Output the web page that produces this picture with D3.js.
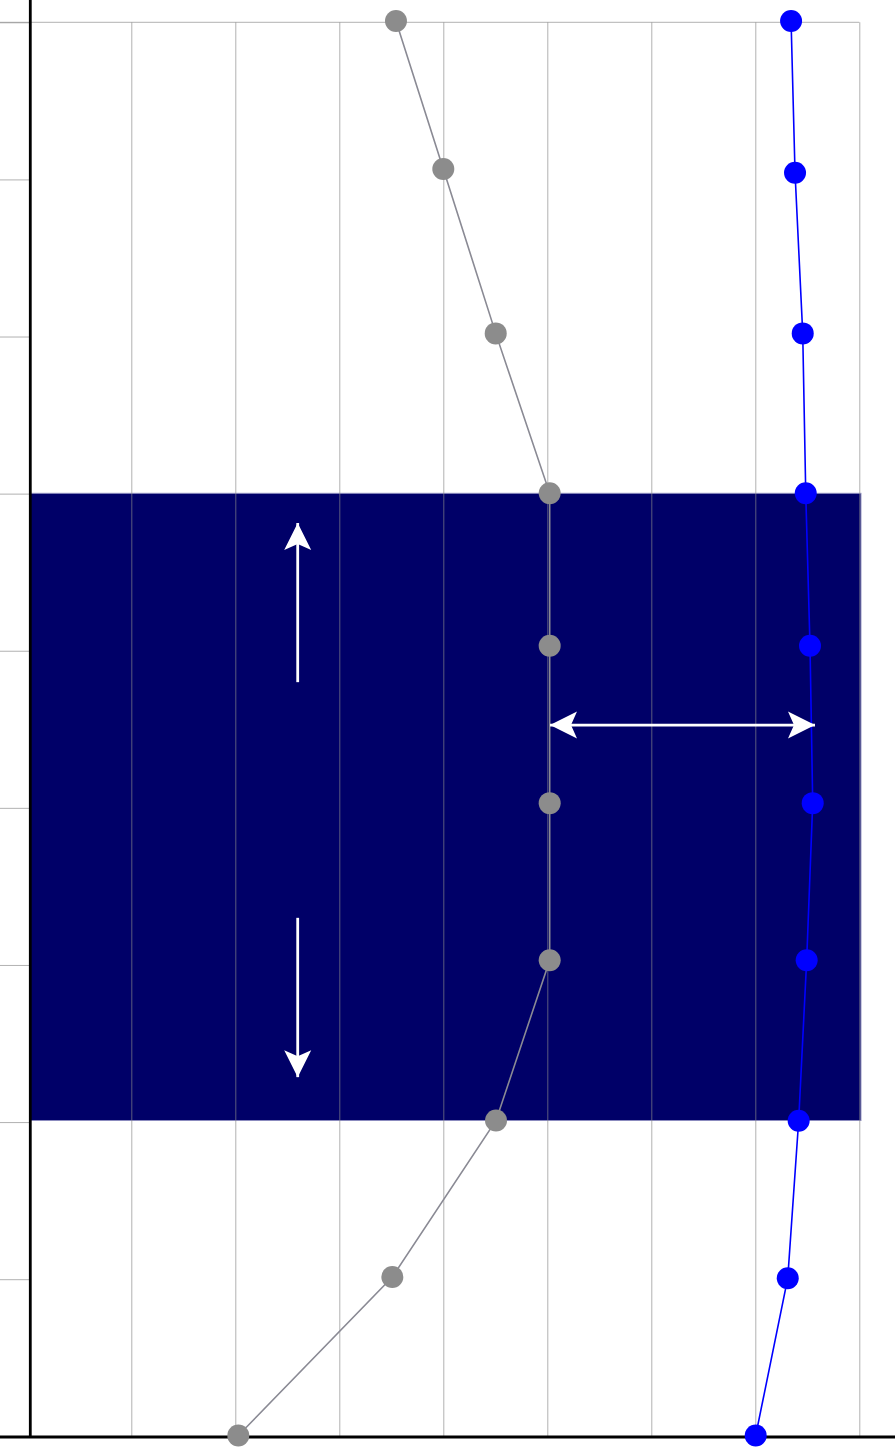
<!DOCTYPE html>
<html>
<head>
<meta charset="utf-8">
<script src="https://cdn.jsdelivr.net/npm/d3@7"></script>
<style>
  html, body { margin: 0; padding: 0; background: #ffffff; }
  svg { display: block; }
</style>
</head>
<body>
<script>
// ---- data ----
const xTicks = [1, 2, 3, 4, 5, 6, 7, 8];
const yTicks = [0, 1, 2, 3, 4, 5, 6, 7, 8, 9];

const grayX = [3.545, 4.0, 4.504, 5.023, 5.023, 5.023, 5.023, 4.507, 3.51, 2.029];
const grayY = [-0.008, 0.934, 1.98, 2.998, 3.968, 4.97, 5.97, 6.99, 7.986, 8.995];

const blueX = [7.344, 7.382, 7.456, 7.485, 7.526, 7.552, 7.494, 7.417, 7.312, 7.004];
const blueY = [-0.008, 0.957, 1.98, 2.998, 3.968, 4.97, 5.97, 6.992, 7.994, 8.995];

const bandX = [0.03, 8.016];
const bandY = [2.998, 6.99];

// arrows: [x1, y1, x2, y2, doubleHeaded]
const arrows = [
  [2.6, 4.2, 2.6, 3.187, false],
  [2.6, 5.7, 2.6, 6.714, false],
  [5.026, 4.473, 7.574, 4.473, true]
];

// ---- layout ----
const W = 896, H = 1447;
const x = d3.scaleLinear().domain([0, 8]).range([27.3, 859.3]);
const y = d3.scaleLinear().domain([0, 9]).range([22.3, 1436.3]);
const axisX = 30.3, axisY = 1437;

const svg = d3.select("body").append("svg")
  .attr("width", W).attr("height", H);

// band
svg.append("rect")
  .attr("x", x(bandX[0])).attr("y", y(bandY[0]))
  .attr("width", x(bandX[1]) - x(bandX[0]))
  .attr("height", y(bandY[1]) - y(bandY[0]))
  .attr("fill", "#000068")
  .attr("stroke", "#8c8cbe").attr("stroke-width", 1);

// vertical grid lines
const gx = svg.append("g")
  .attr("transform", `translate(0,${axisY})`)
  .call(d3.axisBottom(x).tickValues(xTicks).tickSize(-(axisY - y(0))).tickFormat(""));
gx.select(".domain").remove();
gx.selectAll(".tick line").attr("stroke", "#888").attr("stroke-opacity", 0.66).attr("stroke-width", 1);

// left ticks
const gy = svg.append("g")
  .attr("transform", `translate(${axisX},0)`)
  .call(d3.axisLeft(y).tickValues(yTicks).tickSize(axisX).tickFormat(""));
gy.select(".domain").remove();
gy.selectAll(".tick line").attr("stroke", "#888").attr("stroke-opacity", 0.66).attr("stroke-width", 1);

// top border
svg.append("line")
  .attr("x1", 0).attr("x2", x(8))
  .attr("y1", y(0)).attr("y2", y(0))
  .attr("stroke", "#888").attr("stroke-opacity", 0.66).attr("stroke-width", 1);

// axes
svg.append("line")
  .attr("x1", axisX).attr("x2", axisX).attr("y1", 0).attr("y2", axisY)
  .attr("stroke", "#000").attr("stroke-width", 2.8);
svg.append("line")
  .attr("x1", 0).attr("x2", 895).attr("y1", axisY).attr("y2", axisY)
  .attr("stroke", "#000").attr("stroke-width", 3);

// series
const line = d3.line().x(d => x(d[0])).y(d => y(d[1]));
const grayPts = grayX.map((v, i) => [v, grayY[i]]);
const bluePts = blueX.map((v, i) => [v, blueY[i]]);

svg.append("path").datum(grayPts).attr("d", line)
  .attr("fill", "none").attr("stroke", "#8a8a94").attr("stroke-width", 1.6);
svg.append("path").datum(bluePts).attr("d", line)
  .attr("fill", "none").attr("stroke", "#0000ff").attr("stroke-width", 1.6);

svg.append("g").selectAll("circle").data(grayPts).join("circle")
  .attr("cx", d => x(d[0])).attr("cy", d => y(d[1])).attr("r", 11)
  .attr("fill", "#8c8c8c");
svg.append("g").selectAll("circle").data(bluePts).join("circle")
  .attr("cx", d => x(d[0])).attr("cy", d => y(d[1])).attr("r", 11)
  .attr("fill", "#0000ff");

// arrows
const L = 27, HW = 13.5, N = 6;
function head(g, tx, ty, ang) {
  g.append("path")
    .attr("d", `M0,0 L${-L},${-HW} L${-L + N},0 L${-L},${HW} Z`)
    .attr("transform", `translate(${tx},${ty}) rotate(${ang})`)
    .attr("fill", "#ffffff");
}
const ag = svg.append("g");
arrows.forEach(a => {
  const x1 = x(a[0]), y1 = y(a[1]), x2 = x(a[2]), y2 = y(a[3]);
  ag.append("line").attr("x1", x1).attr("y1", y1).attr("x2", x2).attr("y2", y2)
    .attr("stroke", "#fff").attr("stroke-width", 2.8);
  const ang = Math.atan2(y2 - y1, x2 - x1) * 180 / Math.PI;
  head(ag, x2, y2, ang);
  if (a[4]) head(ag, x1, y1, ang + 180);
});
</script>
</body>
</html>
